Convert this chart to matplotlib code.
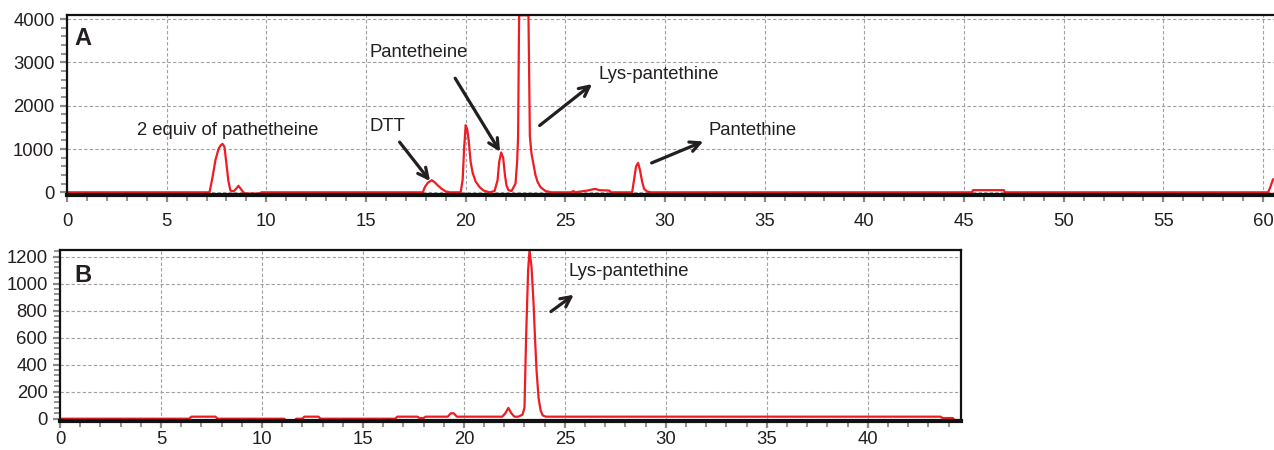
import numpy as np
import matplotlib
matplotlib.use('Agg')
import matplotlib.pyplot as plt
from matplotlib.ticker import MultipleLocator

plt.rcParams['font.family'] = ['Liberation Sans', 'DejaVu Sans']

'''data read off the chromatograms'''
# panel A: retention time (min) and detector signal
a_time = [0, 7.15, 7.3, 7.45, 7.6, 7.7, 7.8, 7.9, 8.0, 8.1, 8.2, 8.35, 8.5, 8.6, 8.7, 8.85,
          8.95, 9.65, 9.75, 17.85, 17.95, 18.1, 18.3, 18.45, 18.6, 18.8, 19.0, 19.2,
          19.75, 19.85, 19.92, 20.0, 20.08, 20.15, 20.25, 20.35, 20.5, 20.7, 20.9, 21.2,
          21.45, 21.6, 21.68, 21.78, 21.88, 21.97, 22.05, 22.15, 22.3, 22.5, 22.58, 22.63,
          22.68, 22.75, 23.15, 23.22, 23.3, 23.4, 23.5, 23.6, 23.75, 24.0, 24.3,
          25.3, 25.4, 25.5, 26.1, 26.5, 26.7, 27.2, 27.3, 28.35, 28.45, 28.55, 28.65, 28.75,
          28.85, 28.95, 29.1, 29.3, 45.4, 45.45, 47.0, 47.05, 60.25, 60.35, 60.5, 60.6]
a_signal = [0, 0, 350, 750, 1000, 1080, 1120, 1050, 650, 250, 40, 20, 90, 150, 90, 0,
            -30, -30, 0, 0, 120, 220, 280, 230, 160, 80, 20, 0,
            0, 300, 1000, 1550, 1450, 1200, 700, 450, 250, 120, 40, 0,
            30, 280, 700, 920, 800, 400, 150, 50, 30, 200, 700, 1300,
            4090, 4090, 4090, 1300, 900, 650, 400, 250, 120, 30, 0,
            0, 30, 0, 40, 80, 50, 40, 0, 0, 300, 600, 680, 500,
            250, 80, 20, 0, 0, 50, 50, 0, 0, 100, 300, 300]

# panel B
b_time = [0, 6.4, 6.5, 7.7, 7.8, 11.1, 11.2, 11.6, 11.7, 12.0, 12.1, 12.8, 12.9, 16.6,
          16.7, 17.7, 17.8, 18.0, 18.1, 19.2, 19.35, 19.5, 19.65, 21.9, 22.05, 22.2,
          22.35, 22.5, 22.7, 22.9, 23.0, 23.08, 23.18, 23.25, 23.35, 23.45, 23.52,
          23.6, 23.7, 23.8, 23.9, 24.05, 43.6, 43.7, 44.2, 44.3, 44.6]
b_signal = [0, 0, 15, 15, 0, 0, -15, -15, 0, 0, 15, 15, 0, 0,
            15, 15, 5, 5, 15, 15, 40, 40, 15, 15, 40, 80,
            40, 15, 15, 30, 80, 600, 1100, 1250, 1120, 850, 600,
            350, 150, 60, 25, 15, 15, 5, 5, -10, -10]

# labels + arrows: (text, text pos, arrow start, arrow end)
a_notes = [('2 equiv of pathetheine', (3.5, 1424), None, None),
           ('DTT', (15.2, 1517), (16.6, 1210), (18.3, 210)),
           ('Pantetheine', (15.2, 3228), (19.4, 2690), (21.8, 880)),
           ('Lys-pantethine', (26.65, 2712), (23.6, 1503), (26.45, 2540)),
           ('Pantethine', (32.2, 1417), (29.2, 654), (32.05, 1200))]
b_notes = [('Lys-pantethine', (25.2, 1089), (24.2, 781), (25.55, 930))]

red = '#ee1c24'
ink = '#231f20'

fig = plt.figure(figsize=(12.74, 4.5), dpi=100)
W, H = 1274, 450


def pix_axes(left, top, right, bottom):
    # axes box given in pixel coords of the picture
    return fig.add_axes([left / W, 1 - bottom / H, (right - left) / W, (bottom - top) / H])


def style(ax, ymaj, ymin, xpad):
    ax.xaxis.set_major_locator(MultipleLocator(5))
    ax.xaxis.set_minor_locator(MultipleLocator(1))
    ax.yaxis.set_major_locator(MultipleLocator(ymaj))
    ax.yaxis.set_minor_locator(MultipleLocator(ymin))
    ax.grid(True, which='major', color='#a0a0a0', linestyle=(0, (3, 2)), linewidth=0.8)
    ax.set_axisbelow(True)
    ax.tick_params(which='major', direction='out', length=5, width=1.6, color='#8a8a8a',
                   labelsize=13.3, labelcolor=ink)
    ax.tick_params(axis='x', which='major', pad=xpad)
    ax.tick_params(axis='y', which='major', pad=4)
    ax.tick_params(which='minor', direction='out', length=4, width=1.3, color='#8a8a8a')
    for side in ['top', 'left', 'right']:
        ax.spines[side].set_linewidth(1.6)
        ax.spines[side].set_color('#111111')
    ax.spines['bottom'].set_linewidth(3)
    ax.spines['bottom'].set_color('#111111')


def notes(ax, lst):
    for txt, pos, start, end in lst:
        ax.text(pos[0], pos[1], txt, fontsize=13.3, color=ink, ha='left', va='center')
        if start is not None:
            ax.annotate('', xy=end, xytext=start,
                        arrowprops=dict(arrowstyle='->', color=ink, lw=2.3, mutation_scale=18))


'''panel A'''
axA = pix_axes(67, 15, 1274, 195)
axA.plot(a_time, a_signal, color=red, lw=1.6)
axA.set_xlim(0, 60.55)
axA.set_ylim(-62, 4096)
style(axA, 1000, 200, 8)
axA.spines['right'].set_visible(False)
notes(axA, a_notes)
axA.text(0.0058, 0.833, 'A', transform=axA.transAxes, fontsize=17, fontweight='bold', color=ink)

'''panel B'''
axB = pix_axes(60, 250, 960.7, 421)
axB.plot(b_time, b_signal, color=red, lw=1.6)
axB.set_xlim(0, 44.6)
axB.set_ylim(-17, 1249)
style(axB, 200, 40, 2)
notes(axB, b_notes)
axB.text(0.0155, 0.813, 'B', transform=axB.transAxes, fontsize=17, fontweight='bold', color=ink)

fig.savefig('out.png', dpi=100)
